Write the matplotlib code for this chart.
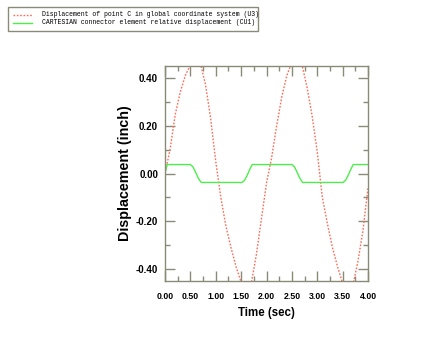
import numpy as np
import matplotlib.pyplot as plt
from matplotlib.ticker import MultipleLocator, FormatStrFormatter
from matplotlib.patches import Rectangle

# Displacement of point C (U3), sampled every 0.1 s
time_u3 = [0.0, 0.1, 0.2, 0.3, 0.4, 0.5, 0.6, 0.7, 0.8, 0.9,
           1.0, 1.1, 1.2, 1.3, 1.4, 1.5, 1.6, 1.7, 1.8, 1.9,
           2.0, 2.1, 2.2, 2.3, 2.4, 2.5, 2.6, 2.7, 2.8, 2.9,
           3.0, 3.1, 3.2, 3.3, 3.4, 3.5, 3.6, 3.7, 3.8, 3.9, 4.0]
disp_u3 = [0.00, 0.10, 0.245, 0.34, 0.41, 0.455, 0.49, 0.46, 0.37, 0.23,
           0.05, -0.10, -0.22, -0.31, -0.39, -0.455, -0.49, -0.46, -0.34, -0.19,
           -0.04, 0.065, 0.20, 0.32, 0.41, 0.465, 0.49, 0.455, 0.36, 0.24,
           0.09, -0.10, -0.21, -0.31, -0.39, -0.46, -0.49, -0.47, -0.37, -0.24, -0.06]

# CARTESIAN connector relative displacement (CU1)
time_cu1 = [0.0, 0.04, 0.50, 0.55, 0.60, 0.65, 0.70, 0.72,
            1.52, 1.57, 1.62, 1.67, 1.71, 1.72,
            2.50, 2.55, 2.60, 2.65, 2.70, 2.71,
            3.51, 3.56, 3.61, 3.66, 3.70, 3.71, 4.0]
disp_cu1 = [0.0, 0.0375, 0.0375, 0.028, 0.007, -0.017, -0.034, -0.0375,
            -0.0375, -0.028, -0.007, 0.017, 0.034, 0.0375,
            0.0375, 0.028, 0.007, -0.017, -0.034, -0.0375,
            -0.0375, -0.028, -0.007, 0.017, 0.034, 0.0375, 0.0375]

legend_labels = ["Displacement of point C in global coordinate system (U3)",
                 "CARTESIAN connector element relative displacement (CU1)"]

red = "#ff6a55"
green = "#4cee4c"
frame = "#8a8a78"

W, H = 432, 347
fig = plt.figure(figsize=(W / 100, H / 100), dpi=100)

ax = fig.add_axes([165 / W, (H - 281) / H, 203 / W, 215 / H])
ax.plot(time_u3, disp_u3, color=red, lw=1.0, linestyle=(0, (1.2, 1.2)))
ax.plot(time_cu1, disp_cu1, color=green, lw=1.0)

ax.set_xlim(0, 4)
ax.set_ylim(-0.45, 0.45)
ax.xaxis.set_major_locator(MultipleLocator(0.5))
ax.xaxis.set_minor_locator(MultipleLocator(0.25))
ax.yaxis.set_major_locator(MultipleLocator(0.2))
ax.yaxis.set_minor_locator(MultipleLocator(0.1))
ax.xaxis.set_major_formatter(FormatStrFormatter("%.2f"))
ax.yaxis.set_major_formatter(FormatStrFormatter("%.2f"))

ax.tick_params(which="both", direction="in", top=True, right=True, color=frame, width=1.0)
ax.tick_params(which="major", length=7)
ax.tick_params(which="minor", length=3.5)
ax.tick_params(axis="x", pad=8, labelsize=6.3)
ax.tick_params(axis="y", pad=5, labelsize=7)
for lbl in ax.get_xticklabels() + ax.get_yticklabels():
    lbl.set_fontweight("bold")
    lbl.set_family("Liberation Sans")
for s in ax.spines.values():
    s.set_color(frame)
    s.set_linewidth(1.0)

ax.set_xlabel("Time (sec)", fontsize=8.3, fontweight="bold", family="Liberation Sans", labelpad=4)
ax.set_ylabel("Displacement (inch)", fontsize=10.3, fontweight="bold", family="Liberation Sans", labelpad=3)

# legend box in the top-left corner
lax = fig.add_axes([8 / W, (H - 31) / H, 250 / W, 24 / H])
lax.set_xlim(0, 250)
lax.set_ylim(24, 0)
lax.axis("off")
lax.add_patch(Rectangle((0, 0), 250, 24, fill=False, edgecolor=frame, lw=1.0, clip_on=False))
lax.plot([5, 24], [8, 8], color=red, lw=1.0, linestyle=(0, (1.2, 1.2)))
lax.plot([5, 24], [16, 16], color=green, lw=1.0)
for i, lab in enumerate(legend_labels):
    lax.text(34, 8 + 8 * i, lab, fontsize=4.7, family="Liberation Mono",
             va="center", ha="left", clip_on=True)

fig.savefig("out.png", dpi=100)
